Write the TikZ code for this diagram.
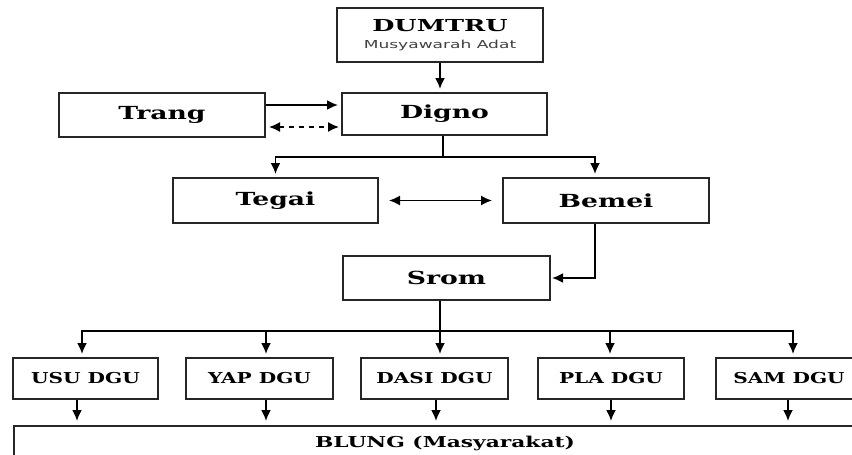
\documentclass[tikz,border=0pt]{standalone}
\usepackage{fontspec}
\setmainfont{DejaVu Serif}
\newfontfamily\labsans{DejaVu Sans}
\usetikzlibrary{arrows.meta}

\newcommand{\wide}[2][1.48]{\scalebox{#1}[1]{#2}}

\tikzset{
    box/.style={draw=black!85, line width=2pt, inner sep=0pt, font=\bfseries\fontsize{18}{21}\selectfont},
    dgu/.style={box, minimum height=41pt, font=\bfseries\fontsize{15}{18}\selectfont},
    pil/.style={-{Latex[length=11pt,width=10pt]}, line width=1.8pt, shorten >=3pt},
    both/.style={{Latex[length=11pt,width=10pt]}-{Latex[length=11pt,width=10pt]}, line width=1.6pt},
    dasharrow/.style={both, dash pattern=on 5pt off 5pt},
  }

\begin{document}
\begin{tikzpicture}[x=1pt, y=-1pt]

\useasboundingbox (0,0) rectangle (852,455);
\clip (0,0) rectangle (852,455);

% top of the council
  \node[box, minimum width=206pt, minimum height=54pt, align=center] (dumtru) at (440,35)
      {\fontsize{16.5}{19}\selectfont\wide[1.55]{DUMTRU}\\[-4pt] {\labsans\mdseries\fontsize{11}{12}\selectfont\color{black!75}\wide[1.55]{Musyawarah Adat}}};
  \node[box, minimum width=205pt, minimum height=42pt] (digno) at (444.5,114) {\wide{Digno}};
  \node[box, minimum width=206pt, minimum height=44pt] (trang) at (162,115) {\wide{Trang}};

  \draw[pil] (dumtru.south) -- (dumtru.south |- digno.north);
  \draw[pil] ([yshift=10pt]trang.east) -- ([yshift=10pt]trang.east -| digno.west);
  \draw[dasharrow, shorten <=3pt, shorten >=2pt] ([yshift=-12pt]trang.east) -- ([yshift=-12pt]trang.east -| digno.west);

% second level
  \node[box, minimum width=205pt, minimum height=45pt] (tegai) at (275.5,200.5) {\wide{Tegai}};
  \node[box, minimum width=206pt, minimum height=45pt] (bemei) at (606,200.5) {\wide{Bemei}};

  \coordinate (fork1) at (443,157);
  \draw[line width=1.8pt] ([xshift=-1.5pt]digno.south) -- (fork1);
  \draw[pil] (fork1) -| (tegai.north);
  \draw[pil] (fork1) -| ([xshift=-11pt]bemei.north);
  \draw[both, shorten <=10pt, shorten >=10pt] (tegai.east) -- (bemei.west);

  \node[box, minimum width=207pt, minimum height=44pt] (srom) at (446.5,278) {\wide{Srom}};
  \draw[pil, shorten >=1pt] ([xshift=-11pt]bemei.south) |- (srom.east);

% DGU row
  \node[dgu, minimum width=145pt] (usu)  at (85.5,378.5)  {\wide[1.34]{USU DGU}};
  \node[dgu, minimum width=147pt] (yap)  at (259.5,378.5) {\wide[1.34]{YAP DGU}};
  \node[dgu, minimum width=147pt] (dasi) at (434.5,378.5) {\wide[1.34]{DASI DGU}};
  \node[dgu, minimum width=146pt] (pla)  at (611,378.5)   {\wide[1.34]{PLA DGU}};
  \node[dgu, minimum width=146pt] (sam)  at (789,378.5)   {\wide[1.34]{SAM DGU}};

  \coordinate (fork2) at (440,331);
  \draw[line width=1.8pt] ([xshift=-6.5pt]srom.south) -- (fork2);
  \foreach \n/\dx in {usu/-3.5, yap/6.5, dasi/5.5, pla/-1, sam/4}
    \draw[pil] (fork2) -| ([xshift=\dx pt]\n.north);

% community
  \node[dgu, minimum width=880pt, minimum height=34pt, anchor=north west] (blung) at (13,425)
      {\hspace*{-18pt}\wide[1.45]{BLUNG (Masyarakat)}};
  \foreach \n/\dx in {usu/-8.5, yap/6.5, dasi/1.5, pla/0, sam/-1}
    \draw[pil, shorten >=4pt] ([xshift=\dx pt]\n.south) -- ([xshift=\dx pt]\n.south |- blung.north);

\end{tikzpicture}
\end{document}
